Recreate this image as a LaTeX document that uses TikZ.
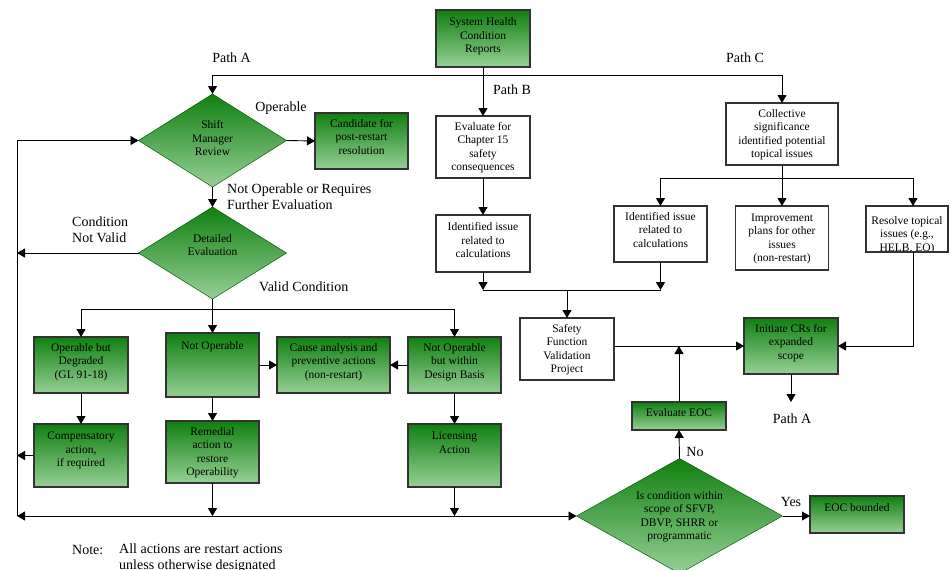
\documentclass[tikz,border=0pt]{standalone}
\usepackage{fontspec}
\setmainfont{Liberation Serif}
\usetikzlibrary{shapes.geometric,arrows.meta}
\definecolor{gtop}{RGB}{16,128,16}
\definecolor{gbot}{RGB}{150,208,150}
\definecolor{bord}{RGB}{50,50,50}
\newcommand{\bt}[2]{\raisebox{#1}[0pt][0pt]{\makebox[0pt]{\begin{tabular}{@{}c@{}}#2\end{tabular}}}}
\begin{document}
\begin{tikzpicture}[x=1pt,y=-1pt,
  font=\fontsize{11.5}{13.5}\selectfont,
  gbox/.style={rectangle,draw=bord,line width=1.1pt,top color=gtop,bottom color=gbot,inner sep=0pt,outer sep=0pt},
  wbox/.style={rectangle,draw=bord,line width=1.1pt,fill=white,inner sep=0pt,outer sep=0pt},
  gdia/.style={diamond,draw=gtop!70!black,line width=0.5pt,top color=gtop,bottom color=gbot,inner sep=0pt,outer sep=0pt},
  arr/.style={-{Triangle[length=8pt,width=9pt]},line width=0.9pt},
  arrboth/.style={{Triangle[length=8pt,width=9pt]}-{Triangle[length=8pt,width=9pt]},line width=0.9pt},
  ln/.style={line width=0.9pt},
  lbl/.style={font=\fontsize{14}{16}\selectfont,inner sep=0pt}]
\clip (0,0) rectangle (951,570);

% boxes
\node[gbox,minimum width=94,minimum height=57] (shcr) at (483,38.5) {\bt{-1pt}{System Health\\Condition\\Reports}};
\node[gdia,minimum width=148,minimum height=93] (smr) at (212.5,140.5) {\bt{-2pt}{Shift\\Manager\\Review}};
\node[gbox,minimum width=93,minimum height=56] (cand) at (361.5,141) {\bt{0pt}{Candidate for\\post-restart\\resolution}};
\node[gdia,minimum width=148,minimum height=92] (det) at (212.5,253) {\bt{3.5pt}{Detailed\\Evaluation}};
\node[wbox,minimum width=94,minimum height=62] (evalB) at (483,147) {\bt{-4pt}{Evaluate for\\Chapter 15\\safety\\consequences}};
\node[wbox,minimum width=94,minimum height=57] (identB) at (483,243.5) {\bt{-1pt}{Identified issue\\related to\\calculations}};
\node[wbox,minimum width=112,minimum height=62] (coll) at (782,134) {\bt{-4pt}{Collective\\significance\\identified potential\\topical issues}};
\node[wbox,minimum width=93,minimum height=56] (identC) at (660.5,234) {\bt{0pt}{Identified issue\\related to\\calculations}};
\node[wbox,minimum width=93,minimum height=64] (impr) at (782,238) {\bt{-4pt}{Improvement\\plans for other\\issues\\(non-restart)}};
\begin{scope}
\clip (866.5,206.5) rectangle (947.5,251.5);
\node[rectangle,fill=white,inner sep=0pt,outer sep=0pt,minimum width=82,minimum height=46] (res) at (907,229) {\bt{-9pt}{Resolve topical\\issues (e.g.,\\HELB, EQ)}};
\end{scope}
\draw[bord,line width=1.1pt] (res.north west) rectangle (res.south east);

\node[gbox,minimum width=94,minimum height=56] (opdeg) at (81,365) {\bt{0pt}{Operable but\\Degraded\\(GL 91-18)}};
\node[gbox,minimum width=93,minimum height=64] (notop) at (212.5,365) {\bt{15.5pt}{Not Operable}};
\node[gbox,minimum width=113,minimum height=56] (cause) at (333.5,365) {\bt{0pt}{Cause analysis and\\preventive actions\\(non-restart)}};
\node[gbox,minimum width=93,minimum height=56] (nopdb) at (454.5,365) {\bt{0pt}{Not Operable\\but within\\Design Basis}};
\node[gbox,minimum width=94,minimum height=63] (comp) at (81,455.5) {\bt{2pt}{Compensatory\\action,\\if required}};
\node[gbox,minimum width=93,minimum height=62] (rem) at (212.5,452) {\bt{-4pt}{Remedial\\action to\\restore\\Operability}};
\node[gbox,minimum width=93,minimum height=63] (lic) at (454.5,455.5) {\bt{8.5pt}{Licensing\\Action}};
\node[wbox,minimum width=94,minimum height=62] (sfvp) at (567,349) {\bt{-4pt}{Safety\\Function\\Validation\\Project}};
\node[gbox,minimum width=94,minimum height=56] (init) at (791,346) {\bt{0pt}{Initiate CRs for\\expanded\\scope}};
\node[gbox,minimum width=94,minimum height=28] (evaleoc) at (679,416) {\bt{-1pt}{Evaluate EOC}};
\node[gdia,minimum width=206,minimum height=115] (iscond) at (679.5,516) {\bt{-4pt}{Is condition within\\scope of SFVP,\\DBVP, SHRR or\\programmatic}};
\node[gbox,minimum width=94,minimum height=37] (eocb) at (857,514.5) {\bt{3pt}{EOC bounded}};

% labels
\node[lbl] (lpa) at (231.5,58) {Path A};
\node[lbl] (lpc) at (745,58) {Path C};
\node[lbl] (lpb) at (512,90) {Path B};
\node[lbl] (lop) at (281,108) {Operable};
\node[lbl,anchor=west,align=left] (lnop) at (227,197) {Not Operable or Requires\\Further Evaluation};
\node[lbl,anchor=west,align=left] (lcnv) at (72,230) {Condition\\Not Valid};
\node[lbl,anchor=west] (lvc) at (259,287) {Valid Condition};
\node[lbl] (lyes) at (791,502) {Yes};
\node[lbl] (lno) at (695,452) {No};
\node[lbl] (lpa2) at (792,419) {Path A};
\node[lbl,anchor=west] (lnote) at (72,550) {Note:};
\node[lbl,anchor=north west,align=left] (lnotet) at (119,544) {All actions are restart actions\\unless otherwise designated};

% junction coordinates
\coordinate (jtop) at (483,75);
\coordinate (lb) at (17,516);
\coordinate (jv) at (212.5,309);
\coordinate (jb) at (567,290);
\coordinate (jc) at (782,178);
\coordinate (pa2) at (791,402);

% connectors
\draw[arr] (shcr.south) -- (evalB.north);
\draw[arr] (jtop) -| (smr.north);
\draw[arr] (jtop) -| (coll.north);
\draw[arr] (smr.east) -- (cand.west);
\draw[arr] (smr.south) -- (det.north);
\draw[arr] (lb) |- (smr.west);
\draw[arr] (det.west) -- (det.west -| lb);
\draw[ln] (det.south) -- (jv);
\draw[arr] (jv) -| (opdeg.north);
\draw[arr] (jv) -- (notop.north);
\draw[arr] (jv) -| (nopdb.north);
\draw[arr] (notop.east |- cause.west) -- (cause.west);
\draw[arr] (nopdb.west) -- (cause.east);
\draw[arr] (opdeg.south) -- (comp.north);
\draw[arr] (notop.south) -- (rem.north);
\draw[arr] (nopdb.south) -- (lic.north);
\draw[arr] (comp.west) -- (comp.west -| lb);
\draw[arr] (rem.south) -- (rem.south |- lb);
\draw[arr] (lic.south) -- (lic.south |- lb);
\draw[arrboth] (lb) -- (iscond.west);
\draw[arr] (iscond.east) -- (iscond.east -| eocb.west);
\draw[arr] (iscond.north) -- (evaleoc.south);
\draw[arr] (evaleoc.north) -- (evaleoc.north |- init.west);
\draw[arr] (init.west -| sfvp.east) -- (init.west);
\draw[arr] ([xshift=6pt]res.south) |- (init.east);
\draw[arr] (init.south) -- (pa2);
\draw[arr] (evalB.south) -- (identB.north);
\draw[arr] (identB.south) -- (identB.south |- jb);
\draw[arr] (identC.south) -- (identC.south |- jb);
\draw[ln] (identB.south |- jb) -- (identC.south |- jb);
\draw[arr] (jb) -- (sfvp.north);
\draw[arr] (coll.south) -- (impr.north);
\draw[arr] (jc) -| (identC.north);
\draw[arr] (jc) -| ([xshift=6pt]res.north);
\end{tikzpicture}
\end{document}
